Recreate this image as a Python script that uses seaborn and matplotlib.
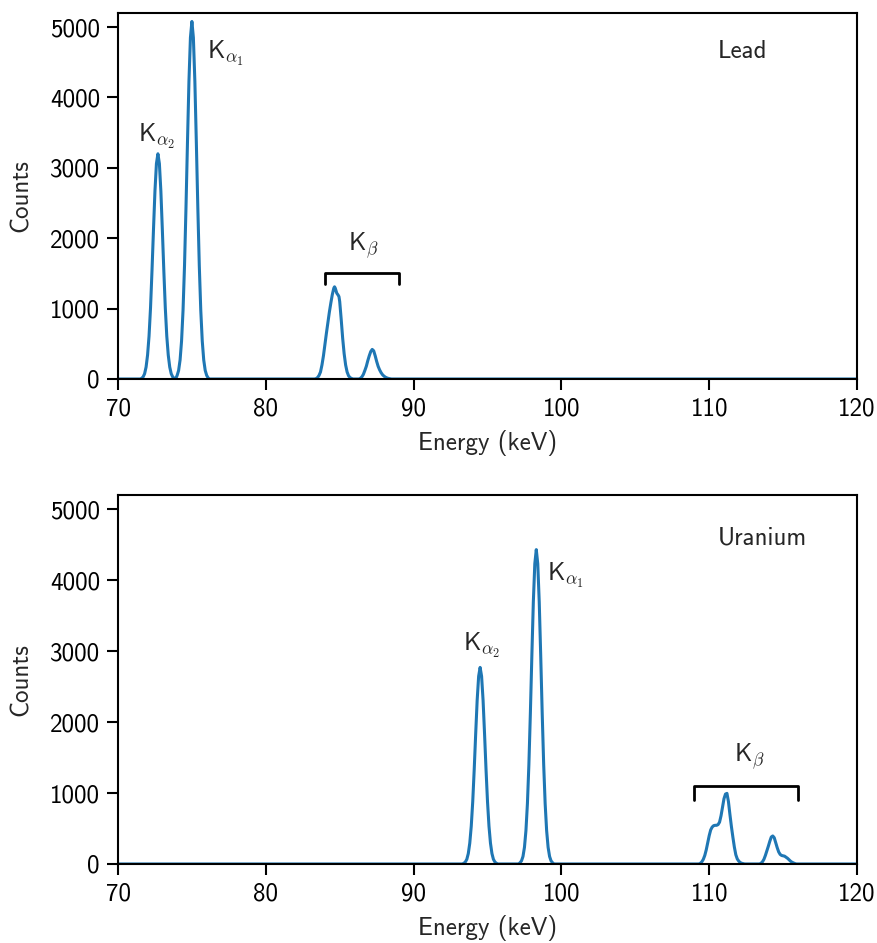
import matplotlib
matplotlib.use("Agg")
import matplotlib.pyplot as plt
import seaborn as sns
import pandas as pd

# ---------------- data ----------------
lead_energy = [70.0, 71.5, 71.6, 71.7, 71.8, 71.9, 72.0, 72.1, 72.2, 72.3, 72.4, 72.5, 72.6, 72.7,
               72.8, 72.9, 73.0, 73.1, 73.2, 73.3, 73.4, 73.5, 73.6, 73.7, 73.8, 73.9,
               74.0, 74.1, 74.2, 74.3, 74.4, 74.5, 74.6, 74.7, 74.8, 74.9, 75.0, 75.1, 75.2,
               75.3, 75.4, 75.5, 75.6, 75.7, 75.8, 75.9, 76.0, 76.1, 76.2,
               83.3, 83.4, 83.5, 83.6, 83.7, 83.8, 83.9, 84.0, 84.1, 84.2, 84.3, 84.4, 84.5, 84.6,
               84.65, 84.7, 84.8, 84.9, 84.95, 85.0, 85.1, 85.2, 85.3, 85.4, 85.5, 85.6, 85.7,
               85.8, 85.9,
               86.3, 86.4, 86.5, 86.6, 86.7, 86.8, 86.9, 87.0, 87.1, 87.2, 87.3, 87.4, 87.5,
               87.6, 87.7, 87.8, 87.9, 88.0, 88.1, 88.2, 88.3, 88.5, 120.0]
lead_counts = [0, 0, 10, 30, 75, 170, 340, 610, 1010, 1540, 2120, 2670, 3060, 3200,
               3060, 2670, 2120, 1540, 1010, 610, 340, 170, 75, 30, 10, 3,
               50, 120, 270, 540, 975, 1610, 2440, 3360, 4230, 4850, 5080, 4850, 4230,
               3360, 2440, 1610, 975, 540, 270, 122, 51, 15, 0,
               0, 5, 20, 50, 100, 200, 330, 490, 650, 800, 950, 1080, 1200, 1290,
               1310, 1290, 1220, 1190, 1170, 1100, 850, 580, 360, 200, 100, 45, 20,
               8, 0,
               0, 10, 30, 65, 120, 180, 260, 330, 390, 420, 400, 330, 250,
               180, 130, 90, 60, 40, 25, 15, 8, 0, 0]

uranium_energy = [70.0, 93.3, 93.4, 93.5, 93.6, 93.7, 93.8, 93.9, 94.0, 94.1, 94.2, 94.3, 94.4,
                  94.5, 94.6, 94.7, 94.8, 94.9, 95.0, 95.1, 95.2, 95.3, 95.4, 95.5, 95.6, 95.7,
                  97.1, 97.2, 97.3, 97.4, 97.5, 97.6, 97.7, 97.8, 97.9, 98.0, 98.1, 98.2, 98.3,
                  98.4, 98.5, 98.6, 98.7, 98.8, 98.9, 99.0, 99.1, 99.2, 99.3, 99.4, 99.5,
                  109.3, 109.4, 109.5, 109.6, 109.7, 109.8, 109.9, 110.0, 110.1, 110.2, 110.3,
                  110.4, 110.5, 110.6, 110.7, 110.8, 110.9, 111.0, 111.1, 111.2, 111.3, 111.4,
                  111.5, 111.6, 111.7, 111.8, 111.9, 112.0, 112.1, 112.2, 112.4,
                  113.4, 113.5, 113.6, 113.7, 113.8, 113.9, 114.0, 114.1, 114.2, 114.3, 114.4,
                  114.5, 114.6, 114.7, 114.8, 114.9, 115.0, 115.1, 115.2, 115.3, 115.4, 115.5,
                  115.6, 115.7, 115.8, 115.9, 120.0]
uranium_counts = [0, 0, 11, 28, 66, 147, 294, 532, 878, 1330, 1834, 2307, 2645,
                  2770, 2645, 2307, 1834, 1330, 878, 532, 294, 147, 66, 28, 11, 0,
                  0, 18, 44, 106, 235, 470, 851, 1404, 2126, 2933, 3690, 4231, 4430,
                  4231, 3690, 2933, 2126, 1404, 851, 470, 235, 106, 44, 18, 0,
                  0, 10, 30, 65, 120, 200, 300, 400, 480, 520, 540,
                  545, 545, 555, 590, 680, 800, 920, 985, 995, 880, 700,
                  530, 380, 240, 130, 70, 40, 20, 10, 0,
                  0, 10, 30, 65, 120, 185, 250, 320, 380, 395, 370,
                  300, 230, 170, 135, 120, 115, 110, 95, 80, 60, 40,
                  25, 15, 6, 0, 0]

x_ticks = [70, 80, 90, 100, 110, 120]
y_ticks = [0, 1000, 2000, 3000, 4000, 5000]

# ---------------- style ----------------
sns.set_style("ticks")
plt.rcParams["font.family"] = ["cmss10", "DejaVu Sans"]
plt.rcParams["mathtext.fontset"] = "cm"
plt.rcParams["axes.unicode_minus"] = False
plt.rcParams["axes.formatter.use_mathtext"] = False

FS = 18
blue = "#1f77b4"

fig = plt.figure(figsize=(8.78, 9.43), dpi=100)
ax1 = fig.add_axes([0.1344, 0.5981, 0.8417, 0.3881])
ax2 = fig.add_axes([0.1344, 0.0838, 0.8417, 0.3913])

df_lead = pd.DataFrame({"Energy": lead_energy, "Counts": lead_counts})
df_ur = pd.DataFrame({"Energy": uranium_energy, "Counts": uranium_counts})

sns.lineplot(data=df_lead, x="Energy", y="Counts", ax=ax1, color=blue, lw=2.2)
sns.lineplot(data=df_ur, x="Energy", y="Counts", ax=ax2, color=blue, lw=2.2)

for ax in (ax1, ax2):
    ax.set_xlim(70, 120)
    ax.set_ylim(0, 5200)
    ax.set_xticks(x_ticks)
    ax.set_yticks(y_ticks)
    ax.set_xlabel("Energy (keV)", fontsize=FS, labelpad=7)
    ax.set_ylabel("Counts", fontsize=FS, labelpad=12)
    ax.tick_params(labelsize=FS, width=1.5, length=8, pad=5, direction="out", colors="black")
    for s in ax.spines.values():
        s.set_visible(True)
        s.set_linewidth(1.5)
        s.set_color("black")

ka2 = r"K$_{\alpha_\mathsf{2}}$"
ka1 = r"K$_{\alpha_\mathsf{1}}$"
kb = r"K$_{\beta}$"

# Lead annotations
ax1.text(72.6, 3450, ka2, fontsize=FS, ha="center", va="center")
ax1.text(77.3, 4620, ka1, fontsize=FS, ha="center", va="center")
ax1.text(86.6, 1900, kb, fontsize=FS, ha="center", va="center")
ax1.plot([84, 84, 89, 89], [1350, 1500, 1500, 1350], color="black", lw=2)
ax1.text(110.6, 4650, "Lead", fontsize=FS, ha="left", va="center")

# Uranium annotations
ax2.text(94.6, 3080, ka2, fontsize=FS, ha="center", va="center")
ax2.text(100.3, 4070, ka1, fontsize=FS, ha="center", va="center")
ax2.text(112.7, 1520, kb, fontsize=FS, ha="center", va="center")
ax2.plot([109, 109, 116, 116], [900, 1100, 1100, 900], color="black", lw=2)
ax2.text(110.6, 4600, "Uranium", fontsize=FS, ha="left", va="center")

fig.savefig("out.png", dpi=100)
